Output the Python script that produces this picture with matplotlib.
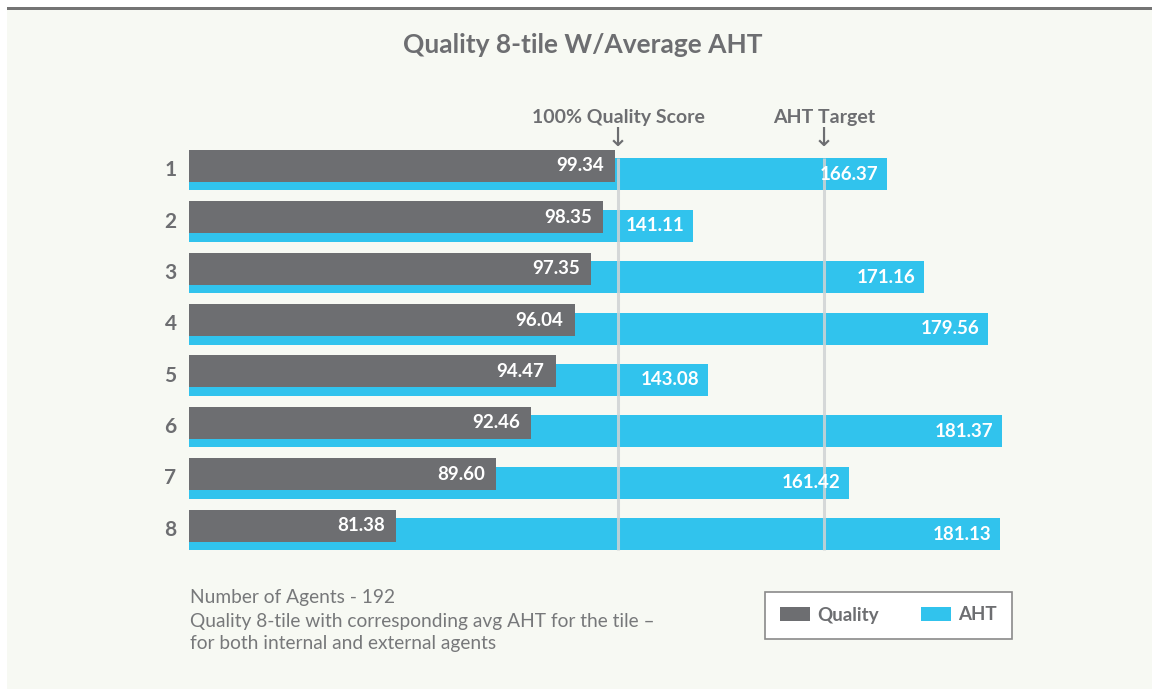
import matplotlib
matplotlib.use("Agg")
import matplotlib.pyplot as plt
from matplotlib.patches import Rectangle, Patch

plt.rcParams['font.family'] = ['Lato', 'DejaVu Sans']

tiles = ["1", "2", "3", "4", "5", "6", "7", "8"]
quality = [99.34, 98.35, 97.35, 96.04, 94.47, 92.46, 89.60, 81.38]
aht = [166.37, 141.11, 171.16, 179.56, 143.08, 181.37, 161.42, 181.13]
quality_ref = 99.6   # "100% Quality Score" marker (as drawn)
aht_target = 158.2   # "AHT Target" marker (as drawn)

GRAY = "#6d6e71"
CYAN = "#31c3ed"
BG = "#f7f9f3"
TXT = "#6d6e71"

W, H = 1152, 689
fig = plt.figure(figsize=(W / 100, H / 100), dpi=100)
fig.patch.set_facecolor("white")

# panel background and top rule
fig.add_artist(Rectangle((7 / W, 0), 1 - 7 / W, 1 - 10 / H, transform=fig.transFigure,
                         facecolor=BG, edgecolor="none", zorder=-10))
fig.add_artist(Rectangle((7 / W, 1 - 10 / H), 1 - 7 / W, 3 / H, transform=fig.transFigure,
                         facecolor="#747474", edgecolor="none", zorder=-9))

left_px, right_px = 189, 1010
top_px, bot_px = 129, 571
ax_aht = fig.add_axes([left_px / W, 1 - bot_px / H, (right_px - left_px) / W, (bot_px - top_px) / H])
ax_q = ax_aht.twiny()

n = len(tiles)
ypos = list(range(n))
off = 0.083
hgt = 0.62

ax_aht.barh([y + off for y in ypos], aht, height=hgt, left=0, color=CYAN, zorder=1)
ax_q.barh([y - off for y in ypos], quality, height=hgt, color=GRAY, zorder=3)

ax_aht.set_xlim(75.44, 182.41)
ax_q.set_xlim(64.40, 131.75)
for a in (ax_aht, ax_q):
    a.set_ylim(n - 1 + 0.8, -0.8)
    a.set_facecolor("none")
    for s in a.spines.values():
        s.set_visible(False)
    a.tick_params(left=False, bottom=False, top=False, labelbottom=False, labeltop=False, labelleft=False)

# reference lines
ytop = 0 + off - hgt / 2
ybot = n - 1 + off + hgt / 2
ax_q.plot([quality_ref, quality_ref], [ytop, ybot], color="#cfd3d4", lw=2.2, alpha=0.85, zorder=4,
          solid_capstyle="butt")
ax_aht.plot([aht_target, aht_target], [ytop, ybot], color="#cfd3d4", lw=2.2, alpha=0.85, zorder=2,
            solid_capstyle="butt")

# value labels
for y, q, t in zip(ypos, quality, aht):
    ax_q.annotate(f"{q:.2f}", (q, y - off), xytext=(-8, 0), textcoords="offset points",
                  ha="right", va="center", color="white", fontsize=13.5, fontweight="bold", zorder=5)
    ax_aht.annotate(f"{t:.2f}", (t, y + off), xytext=(-6, 0), textcoords="offset points",
                    ha="right", va="center", color="white", fontsize=13.5, fontweight="bold", zorder=5)

# row labels
for y, lab in zip(ypos, tiles):
    ax_aht.annotate(lab, (0, y), xycoords=("axes fraction", "data"), xytext=(-9, 0),
                    textcoords="offset points", ha="right", va="center", color=TXT,
                    fontsize=15, fontweight="bold")

# marker annotations
lab_y = 1 + (top_px - 118) / (bot_px - top_px)
arr_y = 1 - (139 - top_px) / (bot_px - top_px)
for a, xv, lab in ((ax_q, quality_ref, "100% Quality Score"), (ax_aht, aht_target, "AHT Target")):
    a.text(xv, lab_y, lab, transform=a.get_xaxis_transform(), ha="center", va="center",
           color=TXT, fontsize=14, fontweight="bold")
    a.text(xv, arr_y, "↓", transform=a.get_xaxis_transform(), ha="center", va="center",
           color=TXT, fontsize=19, family=["DejaVu Sans"])

# title
fig.text(583 / W, 1 - 45 / H, "Quality 8-tile W/Average AHT", ha="center", va="center",
         color=TXT, fontsize=19, fontweight="bold")

# footnotes
foot_kw = dict(ha="left", va="center", color="#77787a", fontsize=13.8, fontweight="normal")
fig.text(190 / W, 1 - 598 / H, "Number of Agents - 192", **foot_kw)
fig.text(190 / W, 1 - 622 / H, "Quality 8-tile with corresponding avg AHT for the tile –", **foot_kw)
fig.text(190 / W, 1 - 644 / H, "for both internal and external agents", **foot_kw)

# legend
handles = [Patch(facecolor=GRAY, edgecolor="none", label="Quality"),
           Patch(facecolor=CYAN, edgecolor="none", label="AHT")]
leg = fig.legend(handles=handles, loc="center", bbox_to_anchor=(888.5 / W, 1 - 615 / H),
                 ncol=2, frameon=True, fancybox=False, framealpha=1, edgecolor="#8a8a8a",
                 facecolor="white", handlelength=1.6, handleheight=0.8, handletextpad=0.4,
                 columnspacing=2.2, borderpad=0.8, prop={"weight": "bold", "size": 13.5})
for t in leg.get_texts():
    t.set_color(TXT)
leg.get_frame().set_linewidth(1.2)

fig.savefig("out.png", dpi=100, facecolor=fig.get_facecolor())
